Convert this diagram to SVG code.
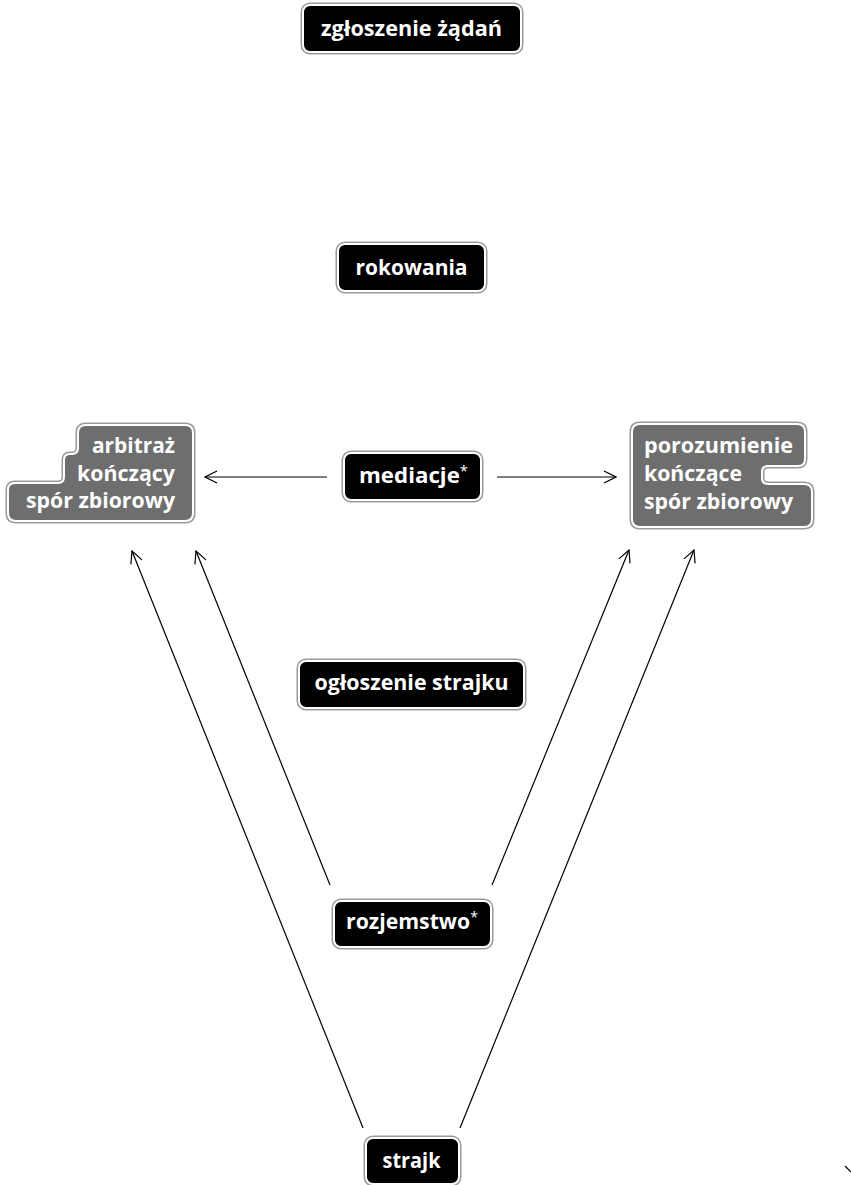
<svg xmlns="http://www.w3.org/2000/svg" width="851" height="1185" viewBox="0 0 851 1185">
<defs>
<style>
.ol{fill:none;stroke:#9a9a9a;stroke-width:5}
.bk{fill:#000;stroke:#fff;stroke-width:2}
.gy{fill:#6e6e6e;stroke:#fff;stroke-width:2}
.t{font-family:"Open Sans","Noto Sans","DejaVu Sans",sans-serif;font-weight:bold;font-size:21px;fill:#fff}
.c{text-anchor:middle}
.r{text-anchor:end}
.ln{fill:none;stroke:#000;stroke-width:1.2}
</style>
<marker id="ah" viewBox="0 0 14 14" refX="13" refY="7" markerWidth="14" markerHeight="14" markerUnits="userSpaceOnUse" orient="auto">
<path d="M1,1 L13,7 L1,13" fill="none" stroke="#000" stroke-width="1.2"/>
</marker>
</defs>
<rect width="851" height="1185" fill="#fff"/>

<g id="connectors">
<line class="ln" x1="327" y1="477" x2="205" y2="477" marker-end="url(#ah)"/>
<line class="ln" x1="497" y1="477" x2="616" y2="477" marker-end="url(#ah)"/>
<line class="ln" x1="363" y1="1128" x2="132" y2="551" marker-end="url(#ah)"/>
<line class="ln" x1="330" y1="885" x2="196" y2="551" marker-end="url(#ah)"/>
<line class="ln" x1="492" y1="885" x2="629" y2="550" marker-end="url(#ah)"/>
<line class="ln" x1="460" y1="1128" x2="694" y2="550" marker-end="url(#ah)"/>
<line class="ln" x1="845" y1="1166" x2="851" y2="1172"/>
</g>

<g id="n-zgloszenie">
<rect class="ol" x="303" y="5" width="218" height="47" rx="7"/>
<rect class="bk" x="303" y="5" width="218" height="47" rx="7"/>
<text class="t c" x="411.5" y="36" textLength="181" lengthAdjust="spacingAndGlyphs">zgłoszenie żądań</text>
</g>

<g id="n-rokowania">
<rect class="ol" x="338" y="244" width="147" height="47" rx="7"/>
<rect class="bk" x="338" y="244" width="147" height="47" rx="7"/>
<text class="t c" x="411.5" y="275" textLength="112" lengthAdjust="spacingAndGlyphs">rokowania</text>
</g>

<g id="n-mediacje">
<rect class="ol" x="344" y="453" width="137" height="47" rx="7"/>
<rect class="bk" x="344" y="453" width="137" height="47" rx="7"/>
<text class="t" x="359" y="483" textLength="109" lengthAdjust="spacingAndGlyphs">mediacje<tspan font-size="14" font-weight="normal" dy="-7">*</tspan></text>
</g>

<g id="n-arbitraz">
<path class="ol" d="M86,425 H185 Q193,425 193,433 V513 Q193,521 185,521 H16 Q8,521 8,513 V490 Q8,483 15,483 H58 Q64,483 64,477 V460 Q64,454 70,454 H72 Q78,454 78,448 V433 Q78,425 86,425 Z"/>
<path class="gy" d="M86,425 H185 Q193,425 193,433 V513 Q193,521 185,521 H16 Q8,521 8,513 V490 Q8,483 15,483 H58 Q64,483 64,477 V460 Q64,454 70,454 H72 Q78,454 78,448 V433 Q78,425 86,425 Z"/>
<text class="t r" x="175" y="453" textLength="83" lengthAdjust="spacingAndGlyphs">arbitraż</text>
<text class="t r" x="175" y="481" textLength="98" lengthAdjust="spacingAndGlyphs">kończący</text>
<text class="t r" x="175" y="508" textLength="149" lengthAdjust="spacingAndGlyphs">spór zbiorowy</text>
</g>

<g id="n-porozumienie">
<path class="ol" d="M640,424 H797 Q805,424 805,432 V459 Q805,466 798,466 H768 Q762,466 762,472 V478 Q762,484 768,484 H804 Q812,484 812,492 V519 Q812,527 804,527 H640 Q632,527 632,519 V432 Q632,424 640,424 Z"/>
<path class="gy" d="M640,424 H797 Q805,424 805,432 V459 Q805,466 798,466 H768 Q762,466 762,472 V478 Q762,484 768,484 H804 Q812,484 812,492 V519 Q812,527 804,527 H640 Q632,527 632,519 V432 Q632,424 640,424 Z"/>
<text class="t" x="644" y="453" textLength="149" lengthAdjust="spacingAndGlyphs">porozumienie</text>
<text class="t" x="644" y="481" textLength="98" lengthAdjust="spacingAndGlyphs">kończące</text>
<text class="t" x="644" y="509" textLength="149" lengthAdjust="spacingAndGlyphs">spór zbiorowy</text>
</g>

<g id="n-ogloszenie">
<rect class="ol" x="299" y="661" width="225" height="47" rx="7"/>
<rect class="bk" x="299" y="661" width="225" height="47" rx="7"/>
<text class="t c" x="411.5" y="690" textLength="194" lengthAdjust="spacingAndGlyphs">ogłoszenie strajku</text>
</g>

<g id="n-rozjemstwo">
<rect class="ol" x="334" y="901" width="157" height="46" rx="7"/>
<rect class="bk" x="334" y="901" width="157" height="46" rx="7"/>
<text class="t" x="346" y="929" textLength="132" lengthAdjust="spacingAndGlyphs">rozjemstwo<tspan font-size="14" font-weight="normal" dy="-7">*</tspan></text>
</g>

<g id="n-strajk">
<rect class="ol" x="366" y="1138" width="93" height="46" rx="7"/>
<rect class="bk" x="366" y="1138" width="93" height="46" rx="7"/>
<text class="t c" x="411.5" y="1168" textLength="58" lengthAdjust="spacingAndGlyphs">strajk</text>
</g>
</svg>
